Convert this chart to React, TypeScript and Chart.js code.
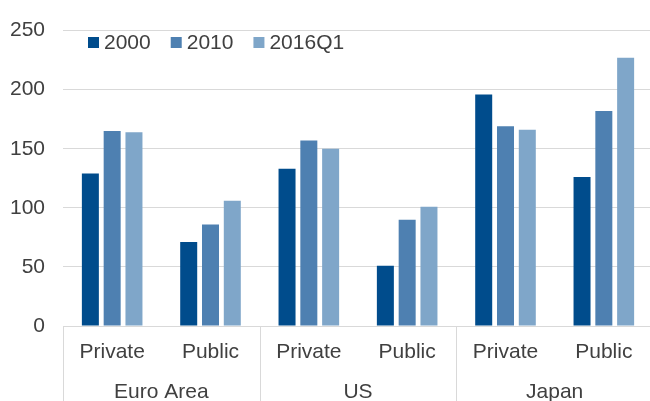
import React, { useEffect, useRef } from "react";
import { Chart, registerables } from "chart.js";

Chart.register(...registerables);

const categories = ["Private", "Public", "Private", "Public", "Private", "Public"];
const groups = ["Euro Area", "US", "Japan"];
const seriesNames = ["2000", "2010", "2016Q1"];
const values2000 = [129, 71, 133, 51, 196, 126];
const values2010 = [165, 86, 157, 90, 169, 182];
const values2016 = [164, 106, 150, 101, 166, 227];
const seriesColors = ["#004C8C", "#4E80B1", "#7FA6C9"];
const yTicks = [0, 50, 100, 150, 200, 250];

const FONT = "'Liberation Sans', Arial, sans-serif";
const TEXT = "#404040";
const LINE = "#D9D9D9";

const groupPlugin = {
  id: "groupPlugin",
  afterDraw(chart: any) {
    const ctx = chart.ctx;
    const x = chart.scales.x;
    const area = chart.chartArea;
    const n = categories.length;
    const per = n / groups.length;
    const half = (x.getPixelForValue(1) - x.getPixelForValue(0)) / 2;
    ctx.save();
    ctx.strokeStyle = LINE;
    ctx.lineWidth = 1;
    for (let g = 0; g <= groups.length; g++) {
      const idx = g * per;
      const px = Math.round(idx < n ? x.getPixelForValue(idx) - half : x.getPixelForValue(n - 1) + half) + 0.5;
      ctx.beginPath();
      ctx.moveTo(px, area.bottom);
      ctx.lineTo(px, chart.height);
      ctx.stroke();
    }
    ctx.fillStyle = TEXT;
    ctx.font = `21px ${FONT}`;
    ctx.textAlign = "center";
    ctx.textBaseline = "alphabetic";
    groups.forEach((g, i) => {
      const a = x.getPixelForValue(i * per) - half;
      const b = x.getPixelForValue(i * per + per - 1) + half;
      ctx.fillText(g, (a + b) / 2, 398);
    });
    // legend
    let lx = 88;
    const ly = 37;
    ctx.textAlign = "left";
    ctx.textBaseline = "middle";
    chart.data.datasets.forEach((ds: any) => {
      ctx.fillStyle = ds.backgroundColor;
      ctx.fillRect(lx, ly, 11, 11);
      lx += 11 + 5;
      ctx.fillStyle = TEXT;
      ctx.fillText(ds.label, lx, ly + 6);
      lx += ctx.measureText(ds.label).width + 20;
    });
    ctx.restore();
  },
};

export default function App() {
  const ref = useRef<HTMLCanvasElement>(null);
  useEffect(() => {
    document.body.style.margin = "0";
    const series = [values2000, values2010, values2016];
    const chart = new Chart(ref.current!, {
      type: "bar",
      data: {
        labels: categories,
        datasets: series.map((d, i) => ({
          label: seriesNames[i],
          data: d,
          backgroundColor: seriesColors[i],
          borderWidth: 0,
          categoryPercentage: 0.665,
          barPercentage: 0.78,
        })),
      },
      options: {
        animation: false,
        responsive: false,
        events: [],
        layout: { padding: { top: 22, left: 0, right: 0, bottom: 0 } },
        plugins: { legend: { display: false }, tooltip: { enabled: false } },
        scales: {
          x: {
            grid: { display: false, drawTicks: false },
            border: { display: true, color: LINE, width: 1 },
            ticks: { color: TEXT, font: { family: FONT, size: 21 }, padding: 14, maxRotation: 0, autoSkip: false },
            afterFit(scale: any) {
              scale.height = 75;
            },
          },
          y: {
            min: 0,
            max: 250,
            afterBuildTicks(scale: any) {
              scale.ticks = yTicks.map((v) => ({ value: v }));
            },
            grid: { color: LINE, lineWidth: 1, drawTicks: false },
            border: { display: false },
            ticks: { color: TEXT, font: { family: FONT, size: 21 }, padding: 18 },
            afterFit(scale: any) {
              scale.width = 63;
            },
          },
        },
      },
      plugins: [groupPlugin],
    });
    return () => chart.destroy();
  }, []);
  return (
    <div style={{ width: 650, height: 401, overflow: "hidden", position: "relative" }}>
      <canvas ref={ref} width={653} height={401} style={{ display: "block" }} />
    </div>
  );
}
